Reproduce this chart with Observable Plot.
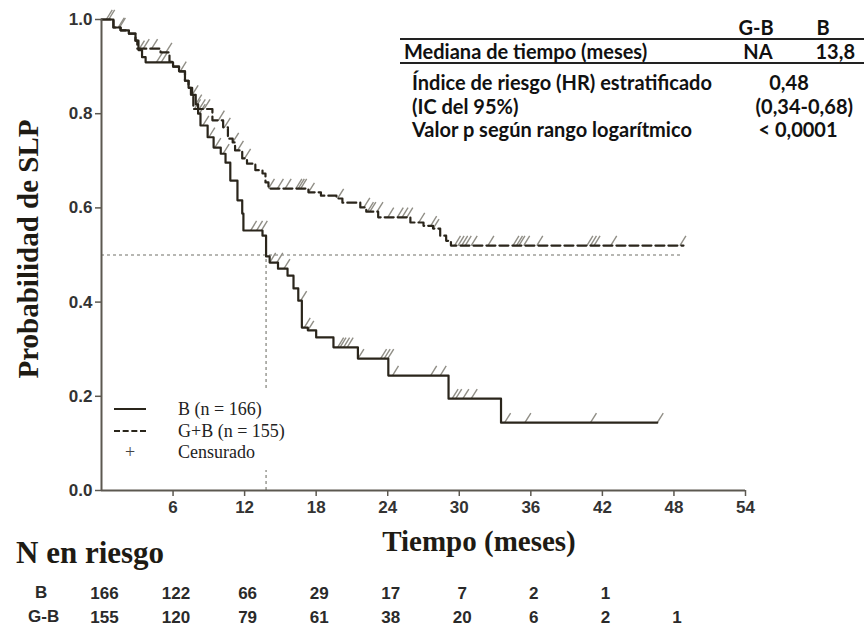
<!DOCTYPE html>
<html>
<head>
<meta charset="utf-8">
<script src="https://cdn.jsdelivr.net/npm/d3@7"></script>
<script src="https://cdn.jsdelivr.net/npm/@observablehq/plot@0.6"></script>
<style>
  html, body { margin: 0; padding: 0; background: #fff; }
  #wrap { position: relative; width: 864px; height: 631px; overflow: hidden; background: #fff; }
  .abs { position: absolute; white-space: nowrap; }
  .tbl { font-family: Lato, "Open Sans", sans-serif; font-weight: 700; font-size: 20px; color: #111; line-height: 22px; }
  .serifb { font-family: "Liberation Serif", "Times New Roman", serif; font-weight: 700; color: #1e1b14; }
  .leg { font-family: "Liberation Serif", "Times New Roman", serif; font-size: 18px; color: #222; line-height: 20px; }
  .rl { font-family: "Liberation Sans Narrow", "Liberation Sans", Arial, sans-serif; font-weight: 700; font-size: 17px; color: #2a2a2a; line-height: 20px; }
</style>
</head>
<body>
<div id="wrap"></div>
<script>
// ---- Data ----
// B arm (solid): step times (months) and survival after each step
const bTimes = [0, 1.0, 1.6, 2.3, 2.85, 3.1, 3.4, 3.7, 6.0, 6.5, 7.0, 7.3, 7.6, 7.9, 8.1, 8.3, 8.9, 9.4, 10.0, 10.4, 10.8, 11.4, 11.8, 11.9, 13.5, 13.8, 14.1, 14.8, 15.6, 16.1, 16.5, 16.8, 17.3, 18.0, 19.45, 21.5, 24.05, 29.1, 33.5, 46.6];
const bSurv  = [1.0, 0.983, 0.977, 0.970, 0.955, 0.935, 0.920, 0.909, 0.900, 0.890, 0.870, 0.855, 0.840, 0.820, 0.800, 0.775, 0.750, 0.728, 0.715, 0.696, 0.658, 0.616, 0.588, 0.552, 0.541, 0.497, 0.484, 0.471, 0.456, 0.429, 0.403, 0.346, 0.340, 0.325, 0.304, 0.280, 0.244, 0.195, 0.144, 0.144];
// G-B arm (dashed)
const gbTimes = [0, 1.0, 1.6, 2.3, 2.85, 3.0, 4.95, 5.7, 6.0, 6.5, 7.0, 7.3, 7.5, 7.7, 9.3, 10.2, 10.6, 11.0, 11.2, 11.8, 12.2, 12.9, 13.5, 13.75, 14.0, 17.35, 18.4, 19.7, 20.2, 21.7, 22.2, 23.2, 25.9, 27.0, 27.8, 28.4, 28.9, 29.3, 48.8];
const gbSurv  = [1.0, 0.983, 0.977, 0.970, 0.955, 0.938, 0.930, 0.910, 0.900, 0.890, 0.870, 0.855, 0.840, 0.810, 0.786, 0.771, 0.747, 0.739, 0.722, 0.705, 0.694, 0.680, 0.673, 0.654, 0.641, 0.633, 0.626, 0.620, 0.611, 0.601, 0.592, 0.580, 0.569, 0.562, 0.556, 0.541, 0.530, 0.520, 0.520];
// censoring times
const bCensor  = [0.6, 1.4, 3.1, 4.6, 5.0, 6.6, 7.9, 8.2, 8.5, 9.0, 9.5, 10.2, 12.5, 13.0, 13.4, 14.1, 14.7, 15.3, 16.7, 17.0, 17.3, 19.8, 20.0, 20.3, 20.6, 21.5, 23.4, 23.7, 24.0, 24.4, 27.6, 28.4, 29.4, 29.7, 30.3, 31.0, 33.8, 35.5, 41.0, 46.6];
const gbCensor = [0.4, 1.5, 3.5, 4.2, 5.4, 7.6, 7.8, 8.2, 8.6, 9.8, 10.3, 11.0, 11.4, 12.0, 14.0, 14.75, 15.4, 16.3, 16.5, 16.7, 17.35, 19.8, 22.0, 22.3, 22.5, 23.1, 24.0, 24.8, 25.2, 25.6, 26.6, 27.6, 27.8, 29.6, 29.9, 30.2, 30.5, 31.0, 32.4, 34.5, 34.8, 35.0, 35.4, 36.5, 40.7, 41.0, 41.3, 42.7, 48.5];
// median reference lines
const medianB = 13.8;
const medianLevel = 0.5;
const refLineEnd = 48.8;
// axes
const xTicks = [6, 12, 18, 24, 30, 36, 42, 48, 54];
const yTicks = [0, 0.2, 0.4, 0.6, 0.8, 1.0];
// number at risk
const riskTimes = [0, 6, 12, 18, 24, 30, 36, 42, 48];
const riskB  = [166, 122, 66, 29, 17, 7, 2, 1];
const riskGB = [155, 120, 79, 61, 38, 20, 6, 2, 1];
const riskLabels = ["B", "G-B"];

// ---- Build tables ----
const bData = bTimes.map((t, i) => ({t, s: bSurv[i]}));
const gbData = gbTimes.map((t, i) => ({t, s: gbSurv[i]}));
function survAt(times, surv, t) {
  let s = surv[0];
  for (let i = 0; i < times.length; i++) { if (times[i] <= t) s = surv[i]; else break; }
  return s;
}
const censorData = [
  ...bCensor.map(t => ({t, s: survAt(bTimes, bSurv, t)})),
  ...gbCensor.map(t => ({t, s: survAt(gbTimes, gbSurv, t)}))
];
const riskData = [
  ...riskB.map((n, i) => ({t: riskTimes[i], g: "B", n})),
  ...riskGB.map((n, i) => ({t: riskTimes[i], g: "G-B", n}))
];

const censorSymbol = {
  draw(context, size) {
    const r = Math.sqrt(size / Math.PI);
    context.moveTo(0, 0);
    context.lineTo(r * 1.0, -r * 1.6);
  }
};

const ink = "#2a251b";
const axisInk = "#5c5850";

const main = Plot.plot({
  width: 864,
  height: 522,
  marginLeft: 101,
  marginRight: 119,
  marginTop: 19,
  marginBottom: 32,
  x: {domain: [0, 54]},
  y: {domain: [0, 1]},
  style: {background: "transparent", color: "#333", overflow: "visible"},
  marks: [
    Plot.ruleY([medianLevel], {x1: 0, x2: refLineEnd, stroke: "#a0a09a", strokeWidth: 1.6, strokeDasharray: "3,3"}),
    Plot.ruleX([medianB], {y1: 0, y2: medianLevel, stroke: "#a0a09a", strokeWidth: 1.6, strokeDasharray: "3,3"}),
    Plot.dot(censorData, {x: "t", y: "s", symbol: censorSymbol, r: 6, fill: "none", stroke: "#908e86", strokeWidth: 1.4}),
    Plot.line(bData, {x: "t", y: "s", curve: "step-after", stroke: ink, strokeWidth: 2.2}),
    Plot.line(gbData, {x: "t", y: "s", curve: "step-after", stroke: ink, strokeWidth: 2.2, strokeDasharray: "9,4"}),
    Plot.ruleX([0], {stroke: axisInk, strokeWidth: 2}),
    Plot.ruleY([0], {stroke: axisInk, strokeWidth: 2}),
    Plot.axisX({ticks: xTicks, tickSize: 6, tickPadding: 4, label: null, stroke: axisInk, strokeWidth: 1.5,
      fontFamily: "'Liberation Sans Narrow', 'Liberation Sans', Arial, sans-serif", fontSize: 17, fontWeight: "bold", fill: "#333"}),
    Plot.axisY({ticks: yTicks, tickFormat: ".1f", tickSize: 6, tickPadding: 3, label: null, stroke: axisInk, strokeWidth: 1.5,
      fontFamily: "'Liberation Sans', Arial, sans-serif", fontSize: 17, fontWeight: "bold", fill: "#333"})
  ]
});
main.style.position = "absolute";
main.style.left = "0px";
main.style.top = "0px";

const risk = Plot.plot({
  width: 864,
  height: 50,
  marginLeft: 101,
  marginRight: 119,
  marginTop: 13,
  marginBottom: 13,
  x: {domain: [0, 54], axis: null},
  y: {domain: riskLabels, axis: null, padding: 0},
  style: {background: "transparent", overflow: "visible"},
  marks: [
    Plot.text(riskData, {x: "t", y: "g", text: "n", dx: 3,
      fontFamily: "'Liberation Sans Narrow', 'Liberation Sans', Arial, sans-serif", fontSize: 17, fontWeight: "bold", fill: "#2a2a2a"})
  ]
});
risk.style.position = "absolute";
risk.style.left = "0px";
risk.style.top = "580px";

const wrap = document.getElementById("wrap");
wrap.appendChild(main);
wrap.appendChild(risk);

function addText(html, cls, styles) {
  const d = document.createElement("div");
  d.className = "abs " + cls;
  d.innerHTML = html;
  Object.assign(d.style, styles);
  wrap.appendChild(d);
  return d;
}

// axis titles
addText("Probabilidad de SLP", "serifb", {fontSize: "29px", left: "28px", top: "249px", transform: "translate(-50%,-50%) rotate(-90deg)"});
addText("Tiempo (meses)", "serifb", {fontSize: "29px", left: "479px", top: "541px", transform: "translate(-50%,-50%)"});
addText("N en riesgo", "serifb", {fontSize: "31px", left: "16px", top: "553px", transform: "translate(0,-50%)"});

// risk row labels
addText(riskLabels[0], "rl", {left: "35px", top: "583px"});
addText(riskLabels[1], "rl", {left: "28px", top: "607px"});

// legend
const leg = document.createElement("div");
leg.className = "abs";
Object.assign(leg.style, {left: "106px", top: "388px", width: "200px", height: "82px", background: "#fff"});
wrap.appendChild(leg);
const legRows = [
  {label: "B (n = 166)", y: 410, type: "solid"},
  {label: "G+B (n = 155)", y: 432, type: "dashed"},
  {label: "Censurado", y: 453, type: "plus"}
];
legRows.forEach(r => {
  if (r.type === "plus") {
    addText("+", "leg", {left: "130px", top: (r.y - 11) + "px", transform: "translateX(-50%)", color: "#444"});
  } else {
    addText("", "", {left: "114px", top: (r.y - 2) + "px", width: "32px", height: "0px", borderTop: "2px " + r.type + " " + ink});
  }
  addText(r.label, "leg", {left: "178px", top: (r.y - 11) + "px"});
});

// statistics table (top right)
addText("", "", {left: "400px", top: "38px", width: "464px", height: "2px", background: "#222"});
addText("", "", {left: "400px", top: "62px", width: "464px", height: "2px", background: "#222"});
addText("G-B", "tbl", {left: "756px", top: "16px", transform: "translateX(-50%)"});
addText("B", "tbl", {left: "823px", top: "16px", transform: "translateX(-50%)"});
addText("Mediana de tiempo (meses)", "tbl", {left: "404px", top: "40px"});
addText("NA", "tbl", {left: "758px", top: "40px", transform: "translateX(-50%)"});
addText("13,8", "tbl", {right: "9px", top: "40px"});
addText("Índice de riesgo (HR) estratificado", "tbl", {left: "412px", top: "71px"});
addText("0,48", "tbl", {left: "789px", top: "71px", transform: "translateX(-50%)"});
addText("(IC del 95%)", "tbl", {left: "412px", top: "95px"});
addText("(0,34-0,68)", "tbl", {right: "11px", top: "95px"});
addText("Valor p según rango logarítmico", "tbl", {left: "412px", top: "118px"});
addText("< 0,0001", "tbl", {left: "798px", top: "118px", transform: "translateX(-50%)"});
</script>
</body>
</html>
